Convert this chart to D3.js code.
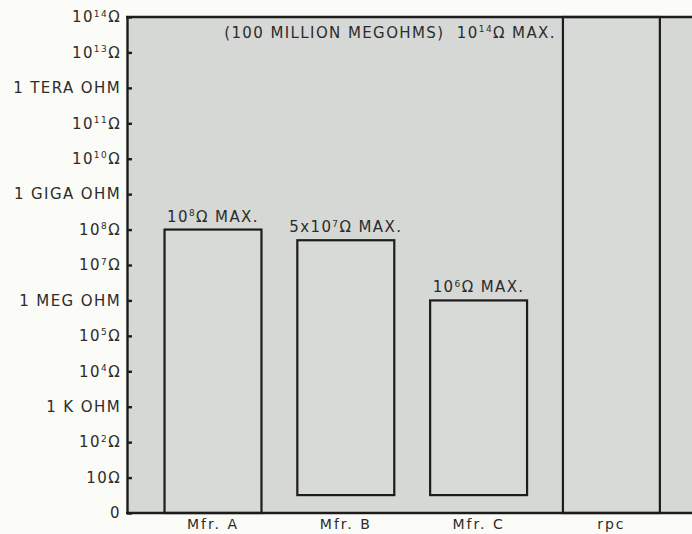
<!DOCTYPE html>
<html>
<head>
<meta charset="utf-8">
<script src="https://cdn.jsdelivr.net/npm/d3@7/dist/d3.min.js"></script>
<style>
  html, body { margin: 0; padding: 0; background: #fbfbf7; }
  svg { display: block; }
  text { font-family: "DejaVu Sans", "Liberation Sans", sans-serif; fill: #2c2c2c; white-space: pre; }
</style>
</head>
<body>
<svg id="chart" width="692" height="534"></svg>
<script>
// Insulation resistance ranges, in ohms
const categories = ["Mfr. A", "Mfr. B", "Mfr. C", "rpc"];
const maxOhms = [1e8, 5e7, 1e6, 1e14];
const minOhms = [1, 3.2, 3.2, 1];
const barLabels = ["10^8Ω MAX.", "5x10^7Ω MAX.", "10^6Ω MAX.", "(100 MILLION MEGOHMS)  10^14Ω MAX."];

// Decade ticks (exponent of ten) and their printed labels
const tickExponents = [0, 1, 2, 3, 4, 5, 6, 7, 8, 9, 10, 11, 12, 13, 14];
const tickLabels = ["0", "10Ω", "10^2Ω", "1 K OHM", "10^4Ω", "10^5Ω", "1 MEG OHM",
  "10^7Ω", "10^8Ω", "1 GIGA OHM", "10^10Ω", "10^11Ω", "1 TERA OHM", "10^13Ω", "10^14Ω"];

const svg = d3.select("#chart");
const W = 692, H = 534;
const margin = { left: 127, top: 17, bottom: 21 };
const plotBottom = H - margin.bottom;
const FS = 15, LS = 1.4;

const y = d3.scaleLinear().domain([0, 14]).range([plotBottom, margin.top]);
const x = d3.scaleBand().domain(categories).range([146.6, 677.8])
  .paddingInner(0.27).paddingOuter(0.135);

// Writes "10^nΩ" style strings as tspans with a raised exponent
function writeSup(sel, str, size) {
  sel.text(null);
  const m = str.match(/^(.*?)\^(\d+)(.*)$/);
  if (!m) { sel.text(str); return; }
  sel.append("tspan").text(m[1]);
  sel.append("tspan").attr("font-size", Math.round(size * 0.62)).attr("dy", -size * 0.38).text(m[2]);
  sel.append("tspan").attr("dy", size * 0.38).text(m[3]);
}

// Plot panel
svg.append("rect")
  .attr("x", margin.left).attr("y", margin.top)
  .attr("width", W - margin.left).attr("height", plotBottom - margin.top)
  .attr("fill", "#d5d8d5");

// Range boxes
const logv = v => Math.log10(v);
categories.forEach((c, i) => {
  const top = y(logv(maxOhms[i]));
  const bot = y(Math.max(0, logv(minOhms[i])));
  svg.append("rect")
    .attr("x", x(c)).attr("y", top)
    .attr("width", x.bandwidth()).attr("height", bot - top)
    .attr("fill", "#d8dad7")
    .attr("stroke", "#1c1c1c").attr("stroke-width", 2.2);
});

// Value labels
categories.forEach((c, i) => {
  const top = y(logv(maxOhms[i]));
  const t = svg.append("text").attr("font-size", FS).attr("letter-spacing", LS);
  if (i === categories.length - 1) {
    t.attr("x", x(c) - 7).attr("y", top + 21).attr("text-anchor", "end");
  } else {
    t.attr("x", x(c) + x.bandwidth() / 2).attr("y", top - 8).attr("text-anchor", "middle");
  }
  writeSup(t, barLabels[i], FS);
});

// Y axis with inward ticks
const yAxis = d3.axisLeft(y).tickValues(tickExponents)
  .tickSizeInner(-5).tickSizeOuter(0).tickPadding(6)
  .tickFormat((d, i) => tickLabels[i]);
const gy = svg.append("g").attr("transform", `translate(${margin.left},0)`).call(yAxis);
gy.select(".domain").attr("stroke", "#1c1c1c").attr("stroke-width", 2.4);
gy.selectAll(".tick line").attr("stroke", "#1c1c1c").attr("stroke-width", 2.4);
gy.selectAll(".tick text")
  .attr("font-size", FS).attr("letter-spacing", LS)
  .attr("font-family", "DejaVu Sans, Liberation Sans, sans-serif")
  .attr("fill", "#2c2c2c")
  .each(function (d, i) { writeSup(d3.select(this), tickLabels[i], FS); });

// Frame lines: top edge and baseline
svg.append("line").attr("x1", margin.left - 1).attr("x2", W)
  .attr("y1", margin.top).attr("y2", margin.top)
  .attr("stroke", "#1c1c1c").attr("stroke-width", 2.4);
svg.append("line").attr("x1", margin.left - 1).attr("x2", W)
  .attr("y1", plotBottom).attr("y2", plotBottom)
  .attr("stroke", "#1c1c1c").attr("stroke-width", 2.6);

// Category labels
const xAxis = d3.axisBottom(x).tickSize(0).tickPadding(6);
const gx = svg.append("g").attr("transform", `translate(0,${plotBottom})`).call(xAxis);
gx.select(".domain").remove();
gx.selectAll(".tick text").attr("font-size", 14).attr("letter-spacing", 2)
  .attr("font-family", "DejaVu Sans, Liberation Sans, sans-serif").attr("fill", "#2c2c2c");
</script>
</body>
</html>
